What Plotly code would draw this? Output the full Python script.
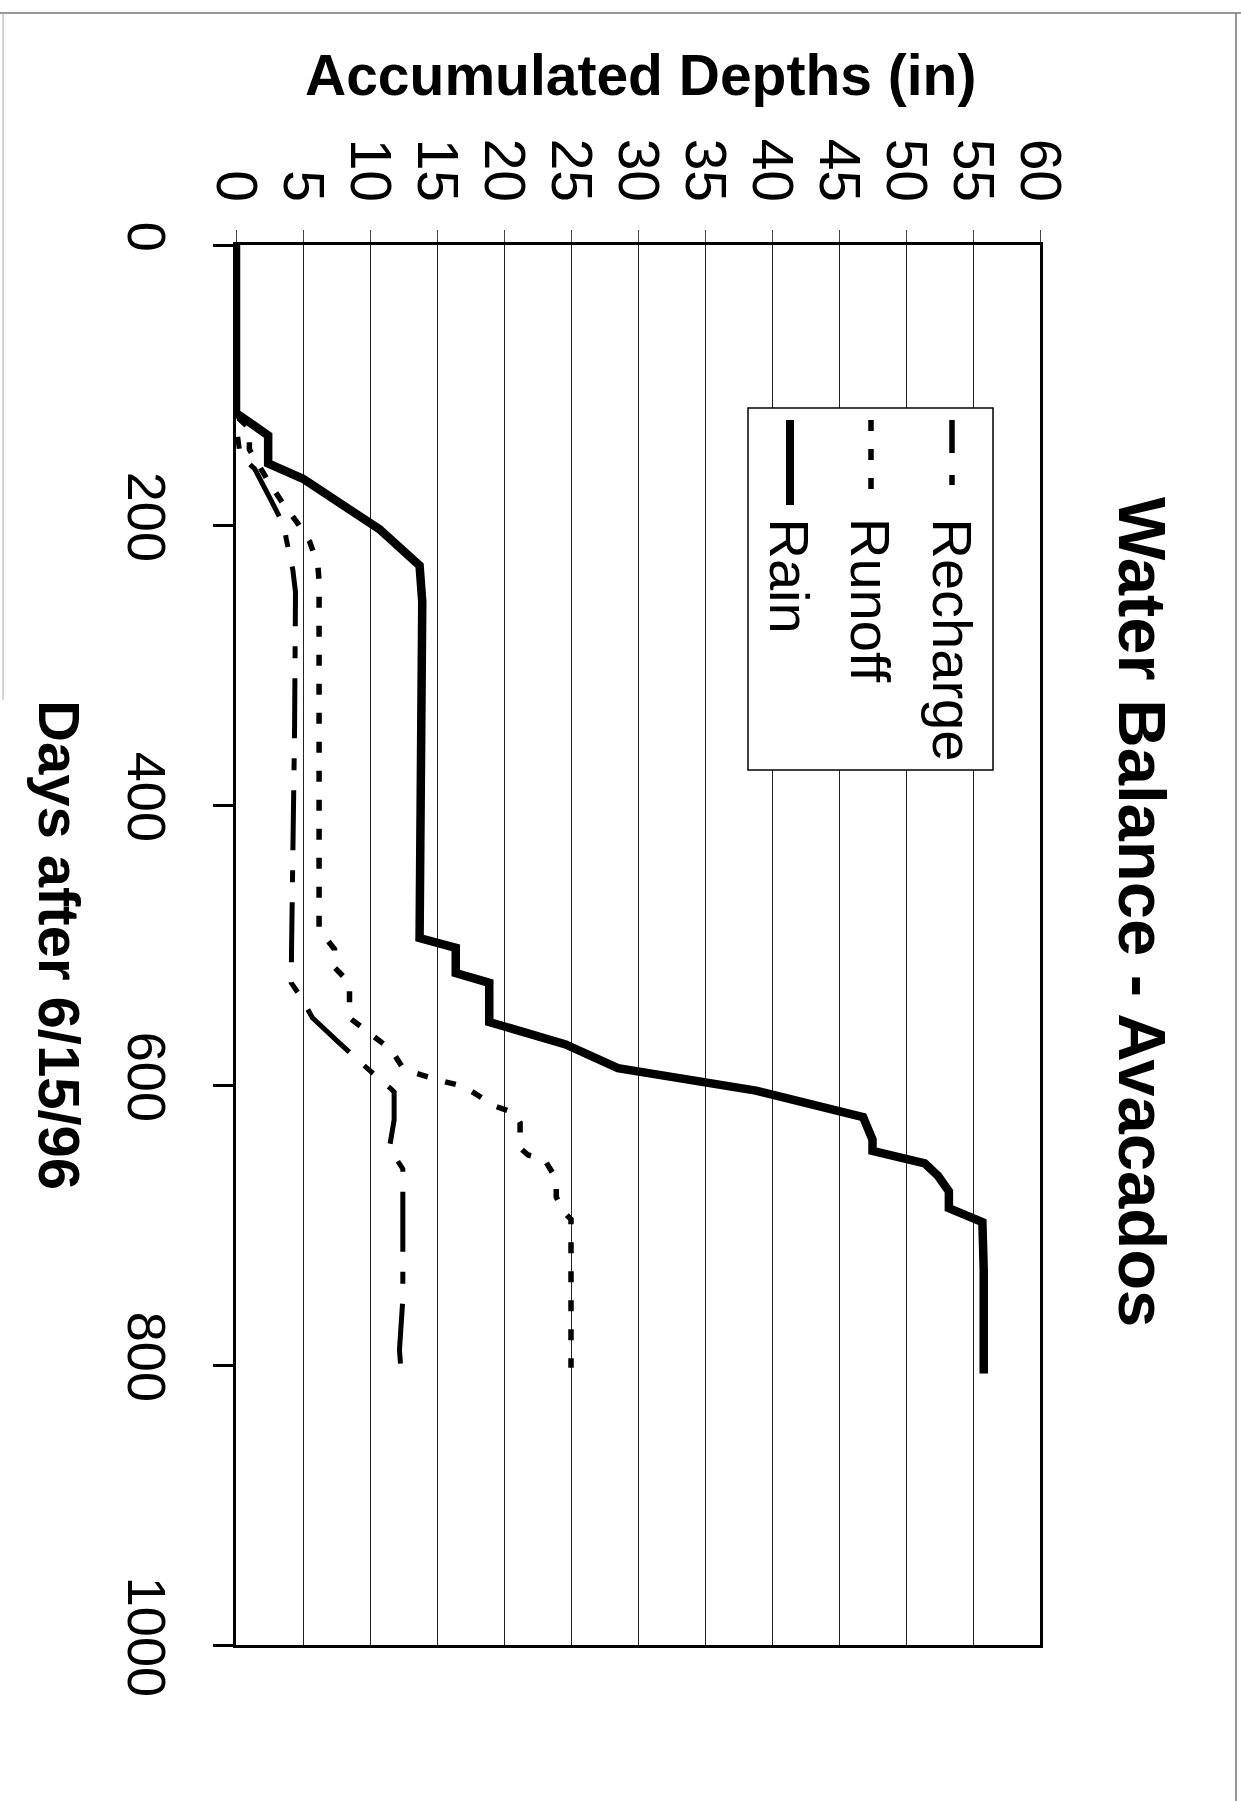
import plotly.graph_objects as go

# Accumulated depths (inches) against days after 6/15/96
rain_days = [0, 120, 136, 156, 167, 203, 229, 255, 495, 502, 520, 527, 555, 571, 588, 598, 604, 623, 639, 647, 656, 665, 676, 688, 698, 732, 806]
rain_in = [0, 0, 2.4, 2.4, 5.0, 10.7, 13.7, 13.9, 13.7, 16.4, 16.4, 18.9, 18.9, 24.6, 28.5, 34.8, 38.8, 46.8, 47.5, 47.5, 51.4, 52.4, 53.2, 53.2, 55.7, 55.8, 55.8]

recharge_days = [0, 127, 150, 160, 182, 201, 210, 232, 248, 346, 500, 527, 538, 552, 569, 584, 603, 605, 625, 645, 660, 753, 789, 803]
recharge_in = [0, 0, 0.3, 1.4, 2.6, 3.6, 3.75, 4.24, 4.44, 4.37, 4.15, 4.12, 4.9, 5.7, 7.6, 9.3, 11.6, 11.8, 11.8, 11.45, 12.45, 12.45, 12.2, 12.3]

runoff_days = [0, 122, 131, 146, 167, 186, 200, 212, 228, 240, 489, 503, 516, 527, 552, 575, 587, 591, 597, 601, 615, 620, 627, 645, 650, 653, 667, 680, 690, 696, 802]
runoff_in = [0, 0, 1.0, 1.0, 2.3, 3.6, 4.7, 5.5, 6.1, 6.2, 6.2, 7.35, 7.35, 8.47, 8.47, 11.6, 12.4, 13.2, 15.3, 17.0, 19.3, 20.8, 21.2, 21.2, 21.8, 23.0, 23.9, 23.9, 24.4, 25.0, 25.0]

depth_ticks = list(range(0, 61, 5))
day_ticks = list(range(0, 1001, 200))

W, H = 1241, 1801
L, T, PW, PH = 236, 245, 804, 1400
FONT = "Liberation Sans"

RECHARGE_DASH = "60px,20px,12px,20px"
RUNOFF_DASH = "11px,18px"


def px(X):
    return (X - L) / PW


def py(Y):
    return (T + PH - Y) / PH


fig = go.Figure()
fig.add_trace(go.Scatter(x=recharge_in, y=recharge_days, mode="lines", name="Recharge",
                         line=dict(color="black", width=5, dash=RECHARGE_DASH)))
fig.add_trace(go.Scatter(x=runoff_in, y=runoff_days, mode="lines", name="Runoff",
                         line=dict(color="black", width=5.5, dash=RUNOFF_DASH)))
fig.add_trace(go.Scatter(x=rain_in, y=rain_days, mode="lines", name="Rain",
                         line=dict(color="black", width=8.5)))

shapes = []
# legend frame
shapes.append(dict(type="rect", xref="paper", yref="paper", x0=px(748), x1=px(993), y0=py(408), y1=py(770),
                   line=dict(color="black", width=1.5), fillcolor="white", layer="above"))
# legend samples (vertical strokes)
for xc, dash, wd in [(952, "33px,22px,10px,20px", 5.5), (871, RUNOFF_DASH, 5.5), (790, "solid", 8)]:
    shapes.append(dict(type="line", xref="paper", yref="paper", x0=px(xc), x1=px(xc), y0=py(420), y1=py(505),
                       line=dict(color="black", width=wd, dash=dash), layer="above"))
# page edges
shapes.append(dict(type="line", xref="paper", yref="paper", x0=px(0), x1=px(W), y0=py(13), y1=py(13),
                   line=dict(color="#777", width=1.5)))
shapes.append(dict(type="line", xref="paper", yref="paper", x0=px(1236), x1=px(1236), y0=py(13), y1=py(H),
                   line=dict(color="#777", width=1.5)))
shapes.append(dict(type="line", xref="paper", yref="paper", x0=px(3), x1=px(3), y0=py(13), y1=py(700),
                   line=dict(color="#aaa", width=1)))

annotations = [
    dict(text="<b>Accumulated Depths (in)</b>", x=px(640), y=py(75), xref="paper", yref="paper",
         xanchor="center", yanchor="middle", showarrow=False,
         font=dict(family=FONT, size=57, color="black")),
    dict(text="<b>Days after 6/15/96</b>", x=px(60), y=py(945), xref="paper", yref="paper",
         xanchor="center", yanchor="middle", showarrow=False, textangle=90,
         font=dict(family=FONT, size=58, color="black")),
    dict(text="<b>Water Balance - Avacados</b>", x=px(1143), y=py(912), xref="paper", yref="paper",
         xanchor="center", yanchor="middle", showarrow=False, textangle=90,
         font=dict(family=FONT, size=67, color="black")),
]
for name, xc in [("Recharge", 952), ("Runoff", 871), ("Rain", 789)]:
    annotations.append(dict(text=name, x=px(xc), y=py(516), xref="paper", yref="paper",
                            xanchor="center", yanchor="top", showarrow=False, textangle=90,
                            font=dict(family=FONT, size=56, color="black")))

fig.update_layout(
    width=W, height=H,
    margin=dict(l=L, r=W - L - PW, t=T, b=H - T - PH, pad=0),
    paper_bgcolor="white", plot_bgcolor="white",
    showlegend=False,
    shapes=shapes,
    annotations=annotations,
    xaxis=dict(side="top", range=[0, 60], tickvals=depth_ticks, ticktext=[str(v) for v in depth_ticks],
               showgrid=True, gridcolor="#222", gridwidth=1,
               showline=True, linecolor="black", linewidth=3, mirror=True,
               ticks="outside", ticklen=12, tickwidth=1, tickcolor="#444",
               tickangle=90, ticklabelstandoff=8,
               tickfont=dict(family=FONT, size=57, color="black"), zeroline=False),
    yaxis=dict(range=[1000, 0], tickvals=day_ticks, ticktext=[str(v) for v in day_ticks],
               showgrid=False,
               showline=True, linecolor="black", linewidth=3, mirror=True,
               ticks="outside", ticklen=20, tickwidth=3, tickcolor="black",
               tickangle=90, ticklabelstandoff=20,
               tickfont=dict(family=FONT, size=54, color="black"), zeroline=False),
)

fig.write_html("out.html")
